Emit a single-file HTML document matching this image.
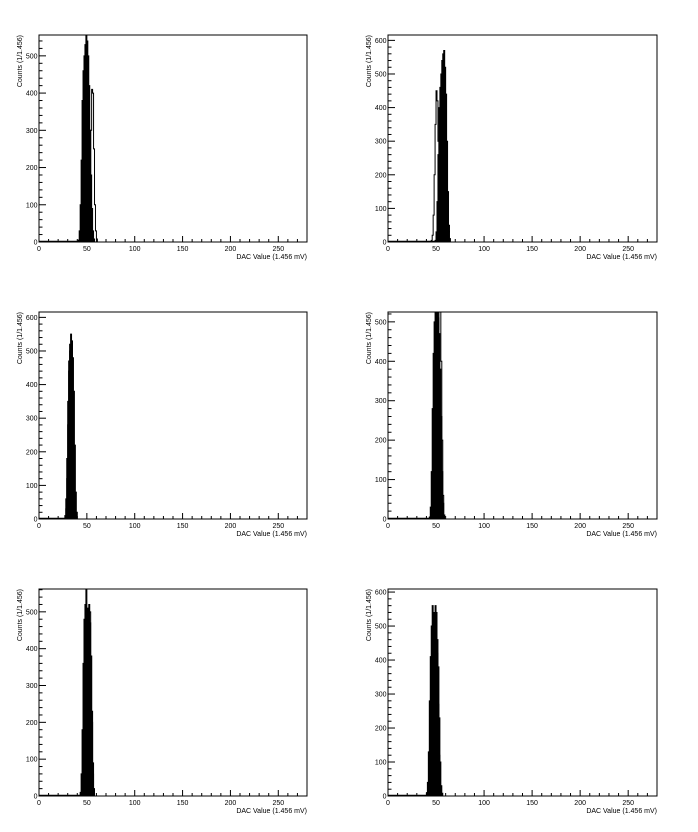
<!DOCTYPE html>
<html><head><meta charset="utf-8"><style>
html,body{margin:0;padding:0;background:#fff;}
svg{display:block;font-family:"Liberation Sans",Arial,sans-serif;}
</style></head><body>
<svg id="c" width="698" height="832" viewBox="0 0 698 832" xmlns="http://www.w3.org/2000/svg"></svg>
<script>
// X axis domain and ticks (DAC value)
const xMin = 0, xMax = 280;
const xTickLabels = [0, 50, 100, 150, 200, 250];
// Per-pad y-axis maxima
const yMaxes = [556, 616, 616, 525, 562, 609];
// Series per pad: start bin and bin counts (bin width 1 DAC)
const p1aStart = 41, p1a = [5,30,100,220,380,460,500,530,556,540,500,420,300,180,90,30,8];
const p1bStart = 52, p1b = [40,150,300,410,400,250,100,30,8];
const p2aStart = 49, p2a = [5,30,120,260,400,460,500,540,560,570,520,440,300,150,50,10];
const p2bStart = 45, p2b = [5,20,80,200,350,450,420,300,150,40];
const p3aStart = 27, p3a = [10,60,180,350,470,520,550,530,480,380,220,80,20];
const p3bStart = 28, p3b = [30,120,280,440,500,460,330,180,60,10];
const p4aStart = 43, p4a = [5,30,120,280,420,500,525,520,525,510,470,380,260,120,40,10];
const p4bStart = 50, p4b = [100,300,480,600,560,400,200,60,10];
const p5aStart = 43, p5a = [10,60,180,360,480,520,565,500,510,500,470,380,230,90,20];
const p5bStart = 49, p5b = [100,250,420,520,500,380,200,60,10];
const p6aStart = 40, p6a = [10,40,130,280,410,500,560,540,520,560,540,460,380,230,100,30,8];
const p6bStart = 45, p6b = [60,180,330,480,540,520,420,270,120,30];

const pads = [
  {filled:[p1aStart,p1a], line:[p1bStart,p1b]},
  {filled:[p2aStart,p2a], line:[p2bStart,p2b]},
  {filled:[p3aStart,p3a], line:[p3bStart,p3b]},
  {filled:[p4aStart,p4a], line:[p4bStart,p4b]},
  {filled:[p5aStart,p5a], line:[p5bStart,p5b]},
  {filled:[p6aStart,p6a], line:[p6bStart,p6b]}
];

const NS = "http://www.w3.org/2000/svg";
const svg = document.getElementById('c');
function mk(tag, attrs, parent){
  const e = document.createElementNS(NS, tag);
  for (const k in attrs) e.setAttribute(k, attrs[k]);
  (parent||svg).appendChild(e);
  return e;
}
const colL = [39, 388], colR = [307, 657], rowT = [35, 312, 589], H = 207;

pads.forEach((pd, i) => {
  const col = i % 2, row = Math.floor(i / 2);
  const L = colL[col], R = colR[col], T = rowT[row], B = T + H;
  const yMax = yMaxes[i];
  const xs = v => L + (v - xMin) / (xMax - xMin) * (R - L);
  const ys = v => B - v / yMax * (B - T);
  const g = mk('g', {});
  
  
  const cid = 'clip' + i;
  const cp = mk('clipPath', {id: cid}, g);
  mk('rect', {x: L, y: T, width: R - L, height: H}, cp);
  const plot = mk('g', {'clip-path': 'url(#' + cid + ')'}, g);
  const base = mk('line', {x1: L, y1: B - 0.7, x2: xs(pd.filled[0]), y2: B - 0.7, stroke: '#000', 'stroke-width': 1.2}, plot);
  
  
  function stepPath(start, arr){
    let d = 'M' + xs(start) + ',' + B;
    arr.forEach((v, k) => {
      d += ' L' + xs(start + k) + ',' + ys(v) + ' L' + xs(start + k + 1) + ',' + ys(v);
    });
    d += ' L' + xs(start + arr.length) + ',' + B;
    return d;
  }
  const f = mk('path', {d: stepPath(pd.filled[0], pd.filled[1]) + ' Z', fill: '#000', stroke: '#000', 'stroke-width': 1}, plot);
  
  
  const l = mk('path', {d: stepPath(pd.line[0], pd.line[1]), fill: 'none', stroke: '#000', 'stroke-width': 1}, plot);
  
  
  const fr = mk('rect', {x: L, y: T, width: R - L, height: H, fill: 'none', stroke: '#000', 'stroke-width': 1}, g);
  
  
  for (let v = 0; v <= xMax; v += 10) {
    const major = v % 50 === 0;
    mk('line', {x1: xs(v), y1: B, x2: xs(v), y2: B - (major ? 6 : 3), stroke: '#000', 'stroke-width': 1}, g);
  }
  xTickLabels.forEach(v => {
    const t = mk('text', {x: xs(v), y: B + 9, 'font-size': 7, 'text-anchor': 'middle'}, g);
    t.textContent = v;
    
    
  });
  for (let v = 0; v <= yMax; v += 20) {
    const major = v % 100 === 0;
    mk('line', {x1: L, y1: ys(v), x2: L + (major ? 7 : 3.5), y2: ys(v), stroke: '#000', 'stroke-width': 1}, g);
    if (major) {
      const t = mk('text', {x: L - 1.5, y: ys(v) + 2.5, 'font-size': 7, 'text-anchor': 'end'}, g);
      t.textContent = v;
      
      
    }
  }
  const xt = mk('text', {x: R, y: B + 17, 'font-size': 7, 'text-anchor': 'end'}, g);
  xt.textContent = 'DAC Value (1.456 mV)';
  
  
  const yt = mk('text', {x: 0, y: 0, 'font-size': 7, 'text-anchor': 'end', transform: 'translate(' + (L - 17) + ',' + T + ') rotate(-90)'}, g);
  yt.textContent = 'Counts (1/1.456)';
  
  
});
</script>
</body></html>
